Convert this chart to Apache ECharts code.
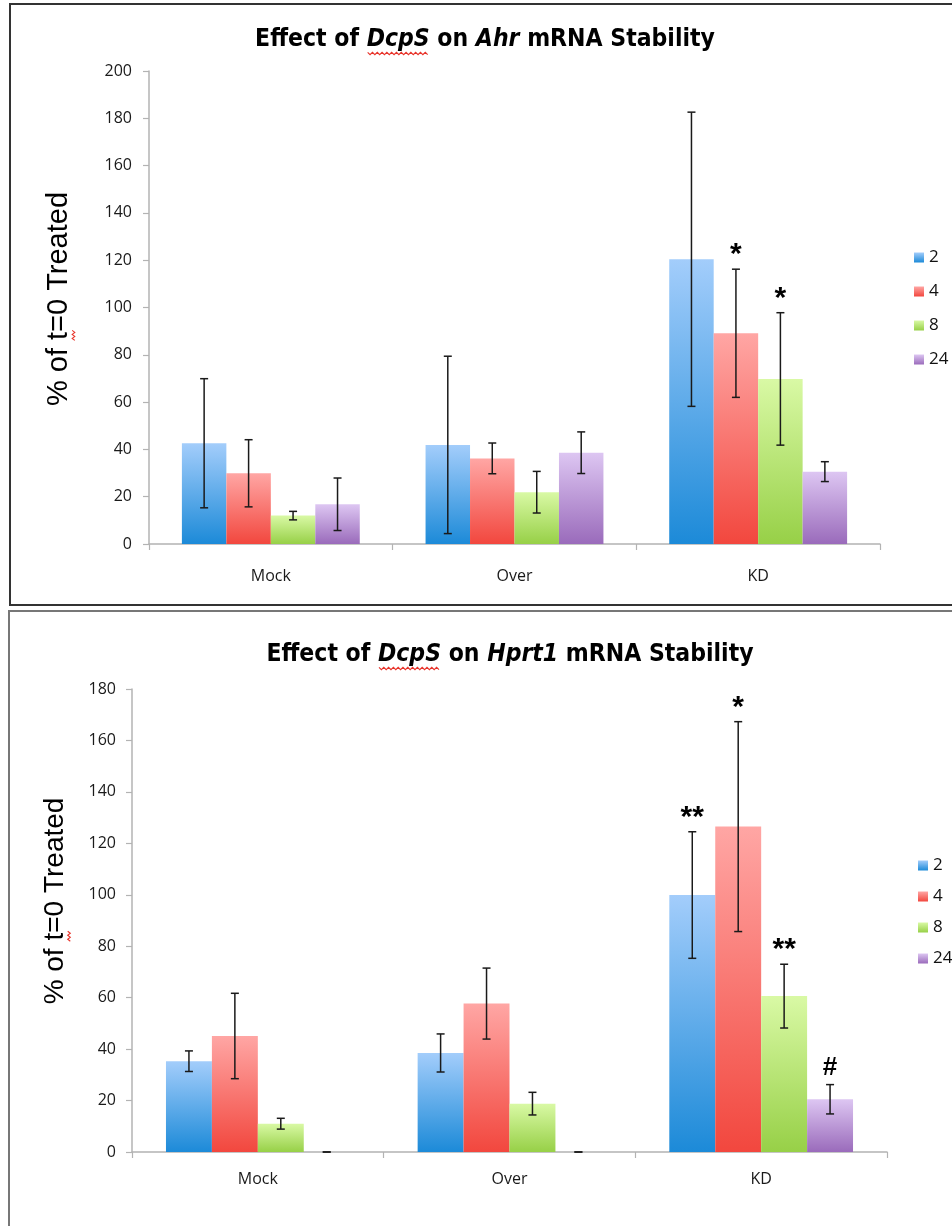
<!DOCTYPE html>
<html><head><meta charset="utf-8">
<script src="https://cdn.jsdelivr.net/npm/echarts@6/dist/echarts.min.js"></script>
<style>html,body{margin:0;padding:0;background:#fff}#c{width:952px;height:1226px}</style>
</head><body><div id="c"></div>
<script>
// ---------- data ----------
const categories = ['Mock', 'Over', 'KD'];
const timepoints = ['2', '4', '8', '24'];

// Ahr (top chart)
const ahr2 = [42.6, 41.9, 120.4];
const ahr4 = [29.9, 36.2, 89.1];
const ahr8 = [12.0, 21.9, 69.8];
const ahr24 = [16.8, 38.6, 30.6];
const ahr2Err = [27.3, 37.5, 62.2];
const ahr4Err = [14.2, 6.5, 27.1];
const ahr8Err = [1.8, 8.8, 28.0];
const ahr24Err = [11.1, 8.8, 4.2];
const ahr2Sig = ['', '', ''];
const ahr4Sig = ['', '', '*'];
const ahr8Sig = ['', '', '*'];
const ahr24Sig = ['', '', ''];
const ahrYTicks = [0, 20, 40, 60, 80, 100, 120, 140, 160, 180, 200];

// Hprt1 (bottom chart)
const hprt2 = [35.3, 38.5, 99.9];
const hprt4 = [45.1, 57.7, 126.5];
const hprt8 = [11.0, 18.8, 60.6];
const hprt24 = [0, 0, 20.5];
const hprt2Err = [4.0, 7.4, 24.6];
const hprt4Err = [16.6, 13.8, 40.8];
const hprt8Err = [2.1, 4.4, 12.4];
const hprt24Err = [0, 0, 5.7];
const hprt2Sig = ['', '', '**'];
const hprt4Sig = ['', '', '*'];
const hprt8Sig = ['', '', '**'];
const hprt24Sig = ['', '', '#'];
const hprtYTicks = [0, 20, 40, 60, 80, 100, 120, 140, 160, 180];

// title pieces: [text, italic]
const ahrTitleParts = [['Effect of ', false], ['DcpS', true], [' on ', false], ['Ahr', true], [' mRNA Stability', false]];
const hprtTitleParts = [['Effect of ', false], ['DcpS', true], [' on ', false], ['Hprt1', true], [' mRNA Stability', false]];
const yTitleBefore = '% of ';
const yTitleFlagged = 't';
const yTitleAfter = '=0 Treated';

// ---------- styles ----------
const topColors = ['#a3cdfb', '#ffa6a4', '#d9f9a5', '#ddc6f2'];
const botColors = ['#1c8ad8', '#f2473e', '#97d047', '#9a6bbb'];
const CAT_GAP = 0.27;
const labelFont = "'Open Sans', 'Noto Sans', sans-serif";
const titleFont = "'Liberation Sans Narrow', 'DejaVu Sans Condensed', 'Liberation Sans', sans-serif";
const yTitleFont = "'Liberation Sans', Arial, sans-serif";
const TITLE_SIZE = 24.5;

const mctx = document.createElement('canvas').getContext('2d');
function textW(font, t) { mctx.font = font; return mctx.measureText(t).width; }

function grad(i) {
  return { type: 'linear', x: 0, y: 0, x2: 0, y2: 1,
    colorStops: [{ offset: 0, color: topColors[i] }, { offset: 1, color: botColors[i] }] };
}

const charts = [
  { means: [ahr2, ahr4, ahr8, ahr24], errs: [ahr2Err, ahr4Err, ahr8Err, ahr24Err],
    sigs: [ahr2Sig, ahr4Sig, ahr8Sig, ahr24Sig], ticks: ahrYTicks },
  { means: [hprt2, hprt4, hprt8, hprt24], errs: [hprt2Err, hprt4Err, hprt8Err, hprt24Err],
    sigs: [hprt2Sig, hprt4Sig, hprt8Sig, hprt24Sig], ticks: hprtYTicks }
];

function errRender(si, n) {
  return function (params, api) {
    const x = api.value(0), m = api.value(1), e = api.value(2);
    const sig = api.value(3);
    const base = api.coord([x, 0]);
    const band = api.size([1, 0])[0];
    const gw = band * (1 - CAT_GAP);
    const bw = gw / n;
    const cx = base[0] - gw / 2 + bw * (si + 0.5);
    const yHi = api.coord([x, m + e])[1];
    const yLo = api.coord([x, Math.max(0, m - e)])[1];
    const st = { stroke: '#1a1a1a', lineWidth: 1.5 };
    const cap = 4;
    const children = [
      { type: 'line', shape: { x1: cx, y1: yHi, x2: cx, y2: yLo }, style: st },
      { type: 'line', shape: { x1: cx - cap, y1: yHi, x2: cx + cap, y2: yHi }, style: st },
      { type: 'line', shape: { x1: cx - cap, y1: yLo, x2: cx + cap, y2: yLo }, style: st }
    ];
    if (sig && sig !== '-') {
      const isHash = sig.indexOf('#') >= 0;
      children.push({ type: 'text', style: { text: sig, x: cx, y: yHi - (isHash ? 17 : 14),
        align: 'center', verticalAlign: 'middle', fill: '#000',
        fontSize: isHash ? 26 : 30, fontWeight: 'bold', fontFamily: "'Liberation Sans', sans-serif" } });
    }
    return { type: 'group', children: children };
  };
}

const series = [];
charts.forEach((c, g) => {
  c.means.forEach((vals, i) => {
    series.push({ type: 'bar', name: timepoints[i], xAxisIndex: g, yAxisIndex: g,
      data: vals, barGap: 0, barCategoryGap: (CAT_GAP * 100) + '%',
      itemStyle: { color: grad(i) }, emphasis: { disabled: true }, animation: false });
  });
  c.means.forEach((vals, i) => {
    series.push({ type: 'custom', name: 'err' + g + '_' + i, xAxisIndex: g, yAxisIndex: g,
      renderItem: errRender(i, c.means.length),
      data: vals.map((v, k) => [k, v, c.errs[i][k], c.sigs[i][k] || '-']),
      dimensions: [{ name: 'cat', type: 'number' }, { name: 'mean', type: 'number' },
                   { name: 'err', type: 'number' }, { name: 'sig', type: 'ordinal' }],
      encode: { x: 0, y: 1 }, z: 5, silent: true, animation: false });
  });
});

function yAxis(g, ticks, margin) {
  return { type: 'value', gridIndex: g, min: ticks[0], max: ticks[ticks.length - 1],
    interval: ticks[1] - ticks[0],
    axisLine: { show: true, lineStyle: { color: '#b3b3b3', width: 1.5 } },
    axisTick: { show: true, length: 6, lineStyle: { color: '#b3b3b3', width: 1.2 } },
    splitLine: { show: false },
    axisLabel: { margin: margin, fontSize: 16, fontFamily: labelFont, color: '#1a1a1a' } };
}
function xAxis(g, margin) {
  return { type: 'category', gridIndex: g, data: categories,
    axisLine: { show: true, lineStyle: { color: '#b3b3b3', width: 1.5 } },
    axisTick: { show: true, length: 6, alignWithLabel: false, interval: 0, lineStyle: { color: '#b3b3b3', width: 1.2 } },
    axisLabel: { margin: margin, fontSize: 16, fontFamily: labelFont, color: '#1a1a1a' } };
}

function wavy(x0, x1, y, amp, step) {
  const pts = []; let k = 0;
  for (let x = x0; x <= x1; x += step) { pts.push([x, y + (k % 2 ? amp : -amp)]); k++; }
  return pts;
}
function wavyV(x, y0, y1, amp, step) {
  const pts = []; let k = 0;
  for (let y = y0; y <= y1; y += step) { pts.push([x + (k % 2 ? amp : -amp), y]); k++; }
  return pts;
}
const squiggle = (pts) => ({ type: 'polyline', silent: true, shape: { points: pts },
  style: { stroke: '#e8332a', lineWidth: 1.1, fill: null } });

// Title built from pieces, with red spell-check squiggle under the first italic word
function titleEls(parts, cx, cy) {
  const fN = 'bold ' + TITLE_SIZE + 'px ' + titleFont;
  const fI = 'italic bold ' + TITLE_SIZE + 'px ' + titleFont;
  const widths = parts.map(p => textW(p[1] ? fI : fN, p[0]));
  const total = widths.reduce((a, b) => a + b, 0);
  let x = cx - total / 2;
  const els = [];
  let sq = null;
  parts.forEach((p, k) => {
    els.push({ type: 'text', x: x, y: cy, silent: true,
      style: { text: p[0], align: 'left', verticalAlign: 'middle', fill: '#000',
        fontSize: TITLE_SIZE, fontWeight: 'bold', fontStyle: p[1] ? 'italic' : 'normal', fontFamily: titleFont } });
    if (k === 1) sq = squiggle(wavy(x + 1, x + widths[k] - 1, cy + TITLE_SIZE * 0.55, 1.2, 2.4));
    x += widths[k];
  });
  els.push(sq);
  return els;
}
function yTitleEls(cx, cy, size) {
  const font = size + 'px ' + yTitleFont;
  const full = yTitleBefore + yTitleFlagged + yTitleAfter;
  const W = textW(font, full);
  const wb = textW(font, yTitleBefore), wt = textW(font, yTitleFlagged);
  const start = cy + W / 2; // text reads bottom-to-top
  return [
    { type: 'text', x: cx, y: cy, rotation: Math.PI / 2, silent: true,
      style: { text: full, align: 'center', verticalAlign: 'middle', fill: '#000',
        fontSize: size, fontFamily: yTitleFont } },
    squiggle(wavyV(cx + size * 0.5, start - wb - wt - 1.5, start - wb + 1.5, 1.3, 2))
  ];
}

const chart = echarts.init(document.getElementById('c'), null, { renderer: 'canvas' });
chart.setOption({
  animation: false,
  backgroundColor: '#fff',
  grid: [
    { left: 149, right: 72, top: 71, bottom: 682, outerBoundsMode: 'none' },
    { left: 132, right: 65, top: 689, bottom: 74, outerBoundsMode: 'none' }
  ],
  xAxis: [xAxis(0, 24), xAxis(1, 19)],
  yAxis: [yAxis(0, ahrYTicks, 17), yAxis(1, hprtYTicks, 16)],
  legend: [
    { data: timepoints, orient: 'vertical', left: 909, top: 244, itemWidth: 10, itemHeight: 10,
      itemGap: 17, icon: 'rect', selectedMode: false,
      textStyle: { fontSize: 17, fontFamily: labelFont, color: '#111' } },
    { data: timepoints, orient: 'vertical', left: 913, top: 852, itemWidth: 10, itemHeight: 10,
      itemGap: 14, icon: 'rect', selectedMode: false,
      textStyle: { fontSize: 17, fontFamily: labelFont, color: '#111' } }
  ],
  graphic: [
    { type: 'rect', silent: true, shape: { x: 10, y: 4, width: 960, height: 601 },
      style: { fill: null, stroke: '#333', lineWidth: 2 } },
    { type: 'rect', silent: true, shape: { x: 9, y: 611, width: 960, height: 640 },
      style: { fill: null, stroke: '#777', lineWidth: 2 } }
  ].concat(
    titleEls(ahrTitleParts, 485, 40),
    titleEls(hprtTitleParts, 510, 655),
    yTitleEls(59, 299, 29),
    yTitleEls(55, 901, 28)
  ),
  series: series
});
</script>
</body></html>
